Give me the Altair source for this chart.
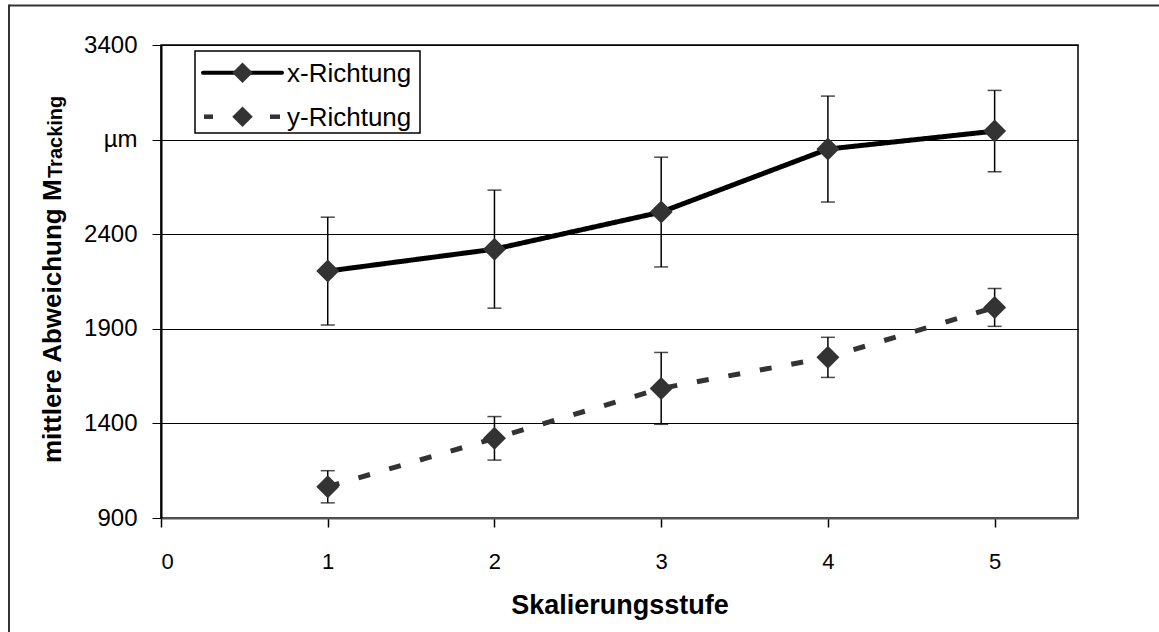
import altair as alt
import pandas as pd

# ---- data ----
steps = [1, 2, 3, 4, 5]
series_names = ["x-Richtung", "y-Richtung"]
x_mean = [2205, 2321, 2517, 2850, 2945]
x_err = [285, 312, 290, 280, 215]
y_mean = [1065, 1321, 1585, 1749, 2013]
y_err = [85, 115, 190, 106, 100]
y_ticks = [900, 1400, 1900, 2400, 2900, 3400]
x_ticks = [0, 1, 2, 3, 4, 5]

rows = []
for s, m, e in zip(steps, x_mean, x_err):
    rows.append({"step": s, "series": series_names[0], "mean": m, "lo": m - e, "hi": m + e})
for s, m, e in zip(steps, y_mean, y_err):
    rows.append({"step": s, "series": series_names[1], "mean": m, "lo": m - e, "hi": m + e})
df = pd.DataFrame(rows)
one = pd.DataFrame({"a": [0]})

FONT = "Liberation Sans"

xs = alt.X("step:Q", scale=alt.Scale(domain=[0, 5.5], nice=False, zero=False),
           axis=alt.Axis(values=x_ticks, title="Skalierungsstufe", grid=False,
                         tickSize=9, tickColor="black", tickWidth=1.5,
                         domainColor="#555555", domainWidth=2,
                         labelFontSize=22, labelPadding=24, labelColor="black",
                         labelFont=FONT, titleFont=FONT, titleFontSize=27,
                         titleFontWeight="bold", titleColor="black", titlePadding=20,
                         format="d"))
ys = alt.Y("mean:Q", scale=alt.Scale(domain=[900, 3400], nice=False, zero=False),
           axis=alt.Axis(values=y_ticks, title=None, grid=True, gridColor="black",
                         gridWidth=1, tickSize=9, tickColor="black", tickWidth=1,
                         domainColor="black", domainWidth=2,
                         labelFontSize=24, labelPadding=15, labelColor="black",
                         labelFont=FONT, format="d",
                         labelExpr="datum.value == 2900 ? 'µm' : datum.label"))

base = alt.Chart(df)

lines = base.mark_line(strokeWidth=5).encode(
    x=xs, y=ys,
    color=alt.Color("series:N", scale=alt.Scale(domain=series_names, range=["#000000", "#333333"]), legend=None),
    strokeDash=alt.StrokeDash("series:N", scale=alt.Scale(domain=series_names, range=[[1, 0], [12, 20]]), legend=None),
    detail="series:N",
)

err_rule = base.mark_rule(color="black", strokeWidth=1.5).encode(
    x="step:Q", y="lo:Q", y2="hi:Q")
cap_lo = base.mark_tick(orient="horizontal", size=14, thickness=1.5, color="black").encode(
    x="step:Q", y="lo:Q")
cap_hi = base.mark_tick(orient="horizontal", size=14, thickness=1.5, color="black").encode(
    x="step:Q", y="hi:Q")

points = base.mark_point(shape="diamond", filled=True, size=529, color="#333333", opacity=1).encode(
    x="step:Q", y="mean:Q")

# ---- legend (drawn as decoration) ----
leg_box = alt.Chart(one).mark_rect(fill="white", stroke="black", strokeWidth=1.5).encode(
    x=alt.value(34), x2=alt.value(259), y=alt.value(6), y2=alt.value(88))
leg_solid = alt.Chart(one).mark_rule(color="black", strokeWidth=4, strokeCap="round").encode(
    x=alt.value(42), x2=alt.value(121), y=alt.value(27.7))
leg_dash1 = alt.Chart(one).mark_rule(color="#333333", strokeWidth=4.5).encode(
    x=alt.value(43), x2=alt.value(52), y=alt.value(71.7))
leg_dash2 = alt.Chart(one).mark_rule(color="#333333", strokeWidth=4.5).encode(
    x=alt.value(109), x2=alt.value(119), y=alt.value(71.7))
leg_d1 = alt.Chart(one).mark_point(shape="diamond", filled=True, size=420, color="#333333", opacity=1).encode(
    x=alt.value(81.5), y=alt.value(27.7))
leg_d2 = alt.Chart(one).mark_point(shape="diamond", filled=True, size=420, color="#333333", opacity=1).encode(
    x=alt.value(81.5), y=alt.value(71.7))
leg_t1 = alt.Chart(one).mark_text(align="left", baseline="middle", fontSize=26, font=FONT,
                                  color="black", text=series_names[0]).encode(
    x=alt.value(126), y=alt.value(28.5))
leg_t2 = alt.Chart(one).mark_text(align="left", baseline="middle", fontSize=26, font=FONT,
                                  color="black", text=series_names[1]).encode(
    x=alt.value(126), y=alt.value(72.5))

title_main = alt.Chart(one).mark_text(
    angle=270, align="left", baseline="alphabetic", fontSize=26, fontWeight="bold",
    font=FONT, color="black", text="mittlere Abweichung M"
).encode(x=alt.value(-100.5), y=alt.value(418))
title_sub = alt.Chart(one).mark_text(
    angle=270, align="left", baseline="alphabetic", fontSize=20, fontWeight="bold",
    font=FONT, color="black", text="Tracking"
).encode(x=alt.value(-99), y=alt.value(133))

frame_top = alt.Chart(one).mark_rule(color="#333333", strokeWidth=2).encode(
    x=alt.value(-152), x2=alt.value(1000), y=alt.value(-39.5))
frame_left = alt.Chart(one).mark_rule(color="#333333", strokeWidth=2).encode(
    x=alt.value(-152), y=alt.value(-40.5), y2=alt.value(600))

chart = alt.layer(
    frame_top, frame_left, lines, err_rule, cap_lo, cap_hi, points,
    leg_box, leg_solid, leg_dash1, leg_dash2, leg_d1, leg_d2, leg_t1, leg_t2,
    title_main, title_sub
).properties(
    width=917, height=473,
    autosize=alt.AutoSizeParams(type="none"),
    padding={"left": 161, "top": 45, "right": 81, "bottom": 114},
    background="white",
).configure_view(stroke="black", strokeWidth=1.5)

chart.save("out.html", embed_options={"renderer": "svg", "actions": False})
